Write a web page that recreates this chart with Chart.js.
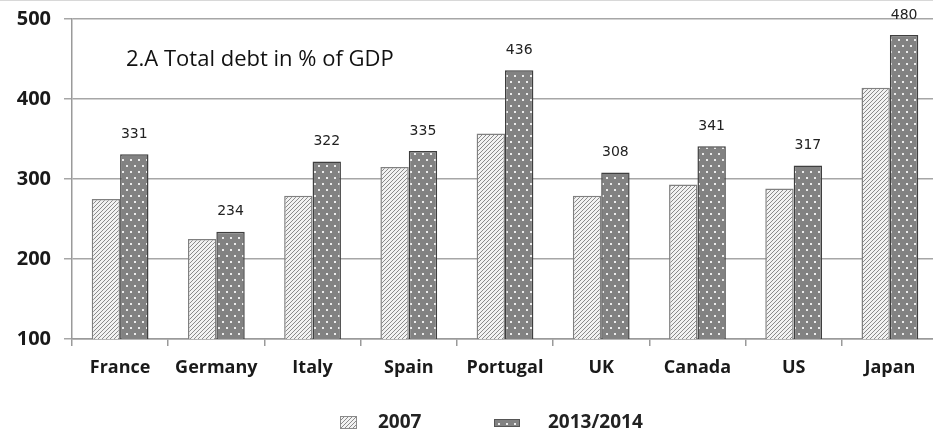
<!DOCTYPE html>
<html>
<head>
<meta charset="utf-8">
<script src="https://cdn.jsdelivr.net/npm/chart.js@4.4.1/dist/chart.umd.min.js"></script>
<style>
  html, body { margin: 0; padding: 0; background: #fff; overflow: hidden; }
  #wrap { position: relative; width: 945px; height: 436px; border-top: 1px solid #d8d8d8; box-sizing: border-box; }
</style>
</head>
<body>
<div id="wrap"><canvas id="debtChart"></canvas></div>
<script>
var countries = ["France", "Germany", "Italy", "Spain", "Portugal", "UK", "Canada", "US", "Japan"];
var debt2007 = [275, 225, 279, 315, 357, 279, 293, 288, 414];
var debt2014 = [331, 234, 322, 335, 436, 308, 341, 317, 480];
var seriesNames = ["2007", "2013/2014"];
var yTicks = [100, 200, 300, 400, 500];
var chartTitle = "2.A Total debt in % of GDP";

// hatched fill for 2007
function makeHatch() {
  var c = document.createElement("canvas");
  c.width = 4; c.height = 4;
  var g = c.getContext("2d");
  g.fillStyle = "#f2f2f2";
  g.fillRect(0, 0, 4, 4);
  g.strokeStyle = "#8a8a8a";
  g.lineWidth = 1;
  g.beginPath();
  g.moveTo(0, 4); g.lineTo(4, 0);
  g.moveTo(-1, 1); g.lineTo(1, -1);
  g.moveTo(3, 5); g.lineTo(5, 3);
  g.stroke();
  return g.createPattern(c, "repeat");
}

// dotted fill for 2013/2014
function makeDots() {
  var c = document.createElement("canvas");
  c.width = 8; c.height = 12;
  var g = c.getContext("2d");
  g.fillStyle = "#828282";
  g.fillRect(0, 0, 8, 12);
  g.fillStyle = "#ececec";
  g.fillRect(2, 2, 2, 2);
  g.fillRect(6, 8, 2, 2);
  return g.createPattern(c, "repeat");
}

var hatch = makeHatch();
var dots = makeDots();

var titlePlugin = {
  id: "insideTitle",
  afterDraw: function(chart) {
    var ctx = chart.ctx, a = chart.chartArea;
    ctx.save();
    ctx.font = "22px 'Open Sans'";
    ctx.fillStyle = "#111";
    ctx.textBaseline = "middle";
    ctx.textAlign = "left";
    ctx.fillText(chartTitle, a.left + 54, a.top + 41);
    ctx.restore();
  }
};

var valueLabels = {
  id: "valueLabels",
  afterDatasetsDraw: function(chart) {
    var ctx = chart.ctx;
    var meta = chart.getDatasetMeta(1);
    ctx.save();
    ctx.font = "14px 'DejaVu Sans'";
    ctx.fillStyle = "#222";
    ctx.textAlign = "center";
    ctx.textBaseline = "middle";
    meta.data.forEach(function(bar, i) {
      ctx.fillText(String(debt2014[i]), bar.x, bar.y - 20);
    });
    ctx.restore();
  }
};

var legendPlugin = {
  id: "bottomLegend",
  afterDraw: function(chart) {
    var ctx = chart.ctx;
    var items = [
      { box: [340, 415, 17, 13], text: 378, fill: hatch, stroke: "#8a8a8a" },
      { box: [494, 418, 26, 8], text: 548, fill: dots, stroke: "#555" }
    ];
    ctx.save();
    ctx.font = "bold 19px 'Open Sans'";
    ctx.textBaseline = "middle";
    items.forEach(function(it, i) {
      var b = it.box;
      ctx.fillStyle = it.fill;
      ctx.fillRect(b[0], b[1], b[2], b[3]);
      ctx.strokeStyle = it.stroke;
      ctx.lineWidth = 1;
      ctx.strokeRect(b[0] + 0.5, b[1] + 0.5, b[2] - 1, b[3] - 1);
      ctx.fillStyle = "#222";
      ctx.fillText(chart.data.datasets[i].label, it.text, 422);
    });
    ctx.restore();
  }
};

var ctx = document.getElementById("debtChart").getContext("2d");

var chartConfig = {
  type: "bar",
  data: {
    labels: countries,
    datasets: [{
      label: seriesNames[0],
      data: debt2007,
      backgroundColor: hatch,
      borderColor: "#808080",
      borderWidth: 1.5,
      borderSkipped: "bottom"
    }, {
      label: seriesNames[1],
      data: debt2014,
      backgroundColor: dots,
      borderColor: "#3f3f3f",
      borderWidth: 1.5,
      borderSkipped: "bottom"
    }]
  },
  options: {
    responsive: true,
    maintainAspectRatio: false,
    animation: false,
    layout: { padding: { top: 18, right: 7, bottom: 0, left: 0 } },
    datasets: { bar: { categoryPercentage: 0.59, barPercentage: 1.0 } },
    plugins: {
      legend: { display: false },
      title: { display: false },
      tooltip: { enabled: false }
    },
    scales: {
      x: {
        offset: true,
        afterFit: function(s) { s.height = 97; s.paddingLeft = 0; s.paddingRight = 0; },
        grid: { drawOnChartArea: false, color: "#9a9a9a", lineWidth: 1.5, tickLength: 7, offset: true },
        border: { color: "#9a9a9a", width: 1.5 },
        ticks: { color: "#1a1a1a", padding: 11, font: { family: "'Open Sans'", size: 18, weight: "bold" } }
      },
      y: {
        min: 100,
        max: 500,
        afterFit: function(s) { s.width = 72; s.paddingTop = 0; s.paddingBottom = 0; },
        afterBuildTicks: function(s) { s.ticks = yTicks.map(function(v) { return { value: v }; }); },
        grid: { color: "#a6a6a6", lineWidth: 1.5, tickLength: 8 },
        border: { color: "#9a9a9a", width: 1.5 },
        ticks: { color: "#1a1a1a", padding: 13, font: { family: "'Open Sans'", size: 20, weight: "bold" } }
      }
    }
  },
  plugins: [titlePlugin, valueLabels, legendPlugin]
};

var myChart = new Chart(ctx, chartConfig);
</script>
</body>
</html>
